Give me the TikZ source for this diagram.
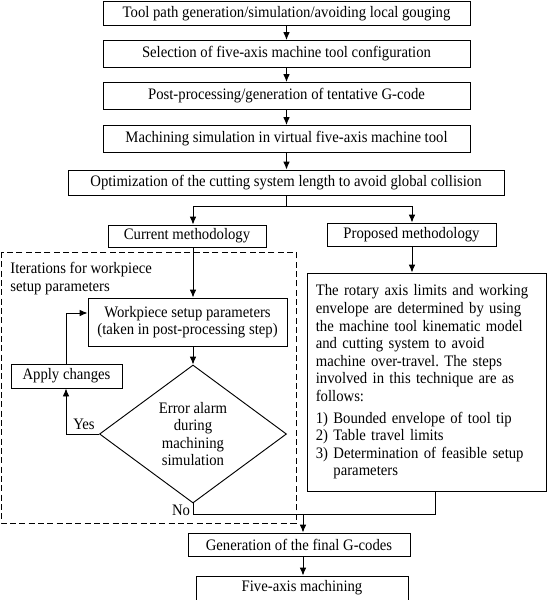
\documentclass[tikz,border=0pt]{standalone}
\usepackage{fontspec}
\setmainfont[FakeStretch=0.92]{Liberation Serif}
\usetikzlibrary{arrows.meta,shapes.geometric}
\frenchspacing
\begin{document}
\begin{tikzpicture}[x=0.75pt,y=-0.75pt,
  font=\fontsize{12pt}{13.2pt}\selectfont,
  line width=0.7pt,
  box/.style={draw,rectangle,inner sep=0pt,align=center},
  arr/.style={-{Latex[length=6pt,width=5pt]}},
  dashframe/.style={draw,dash pattern=on 4.5pt off 2.5pt}]
\useasboundingbox (0,0) rectangle (552,600);
\node[box,minimum width=275.25pt,minimum height=18pt] (b1) at (286.5,13.5) {Tool path generation/simulation/avoiding local gouging};
\node[box,minimum width=275.25pt,minimum height=20.25pt] (b2) at (286.5,54) {Selection of five-axis machine tool configuration};
\node[box,minimum width=275.25pt,minimum height=20.25pt] (b3) at (286.5,96) {Post-processing/generation of tentative G-code};
\node[box,minimum width=275.25pt,minimum height=20.25pt] (b4) at (286.5,139) {Machining simulation in virtual five-axis machine tool};
\node[box,minimum width=327pt,minimum height=18.75pt] (b5) at (286,182.5) {Optimization of the cutting system length to avoid global collision};
\node[box,minimum width=118.5pt,minimum height=16.5pt] (cur) at (187,236) {Current methodology};
\node[box,minimum width=126.75pt,minimum height=17.25pt] (prop) at (411.5,234.5) {Proposed methodology};
\node[box,minimum width=149.25pt,minimum height=36pt] (wp) at (187.5,322) {Workpiece setup parameters\\(taken in post-processing step)};
\node[box,minimum width=83.25pt,minimum height=18pt] (apply) at (66.5,376) {Apply changes};
\node[draw,diamond,inner sep=0pt,minimum width=140.25pt,minimum height=103.5pt,align=center] (dia) at (193,434) {Error alarm\\during\\machining\\simulation};
\node[box,minimum width=179.25pt,minimum height=163.5pt,inner xsep=6.5pt,text width=166pt,align=left] (rbox) at (426.5,382) {The rotary axis limits and working\\envelope are determined by using\\the machine tool kinematic model\\and cutting system to avoid\\machine over-travel. The steps\\involved in this technique are as\\follows:\\[3pt]1) Bounded envelope of tool tip\\2) Table travel limits\\3) Determination of feasible setup\\\phantom{3) }parameters};
\node[box,minimum width=166.5pt,minimum height=17.25pt] (gen) at (299,544.5) {Generation of the final G-codes};
\node[box,minimum width=159pt,minimum height=18pt] (five) at (302,588) {Five-axis machining};
\node[anchor=north west,align=left,inner sep=0pt] (iter) at (10,262) {Iterations for workpiece\\setup parameters};
\node[inner sep=0pt] (yes) at (84,424) {Yes};
\node[inner sep=0pt] (no) at (181,510) {No};
\draw[dashframe] (1,252) rectangle (296,523);
\coordinate (sl) at (193,206);
\coordinate (sr) at (412,206);
\coordinate (m) at (303,514);
\coordinate (rb) at (435,491);
\coordinate (fb) at (66,313);
\draw[arr] (b1.south) -- (b2.north);
\draw[arr] (b2.south) -- (b3.north);
\draw[arr] (b3.south) -- (b4.north);
\draw[arr] (b4.south) -- (b4.south |- b5.north);
\draw (b5.south) -- (b5.south |- sl);
\draw (sl) -- (sr);
\draw[arr] (sl) -- (sl |- cur.north);
\draw[arr] (sr) -- (sr |- prop.north);
\draw[arr] (sl |- cur.south) -- (sl |- wp.north);
\draw[arr] (sr |- prop.south) -- (sr |- rbox.north);
\draw[arr] (dia.north |- wp.south) -- (dia.north);
\draw[arr] (dia.west) -- (fb |- dia.west) -- (fb |- apply.south);
\draw[arr] (fb |- apply.north) -- (fb) -- (fb -| wp.west);
\draw (dia.south) |- (rb |- m) -- (rb);
\draw[arr] (m) -- (m |- gen.north);
\draw[arr] (m |- gen.south) -- (m |- five.north);
\end{tikzpicture}
\end{document}
